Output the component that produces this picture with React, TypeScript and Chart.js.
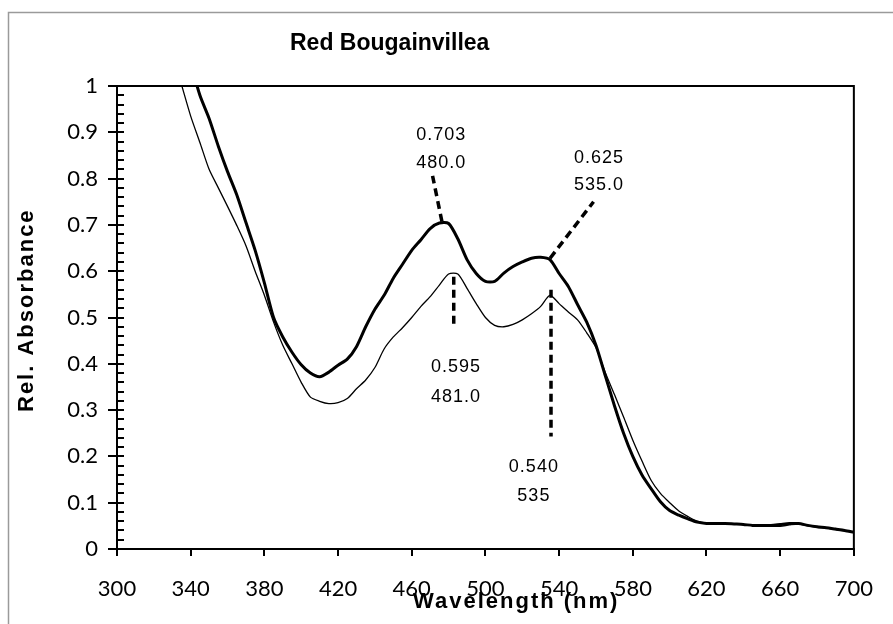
import { useEffect, useRef } from "react";
import Chart from "chart.js/auto";

const chartTitle = "Red Bougainvillea";
const xAxisTitle = "Wavelength (nm)";
const yAxisTitle = "Rel. Absorbance";

const wavelengths = [
  330, 335, 340, 345, 350, 355, 360, 365, 370, 375, 380, 385, 390, 395, 400, 405, 410, 415, 420, 425,
  430, 435, 440, 445, 450, 455, 460, 465, 470, 475, 480, 485, 490, 495, 500, 505, 510, 515, 520, 525,
  530, 535, 540, 545, 550, 555, 560, 565, 570, 575, 580, 585, 590, 595, 600, 605, 610, 615, 620, 625,
  630, 635, 640, 645, 650, 655, 660, 665, 670, 675, 680, 685, 690, 695, 700,
];

// thick curve
const seriesA = [
  1.25, 1.13, 1.05, 0.98, 0.93, 0.87, 0.815, 0.765, 0.705, 0.645, 0.575, 0.5, 0.458, 0.425, 0.398, 0.38, 0.372, 0.382, 0.397, 0.41,
  0.437, 0.48, 0.518, 0.548, 0.585, 0.615, 0.645, 0.668, 0.692, 0.704, 0.703, 0.67, 0.625, 0.595, 0.578, 0.578, 0.596, 0.61, 0.62, 0.628,
  0.63, 0.625, 0.595, 0.567, 0.528, 0.49, 0.44, 0.375, 0.31, 0.25, 0.2, 0.16, 0.13, 0.102, 0.083, 0.073, 0.065, 0.058, 0.055, 0.055,
  0.055, 0.054, 0.053, 0.051, 0.051, 0.051, 0.053, 0.055, 0.055, 0.051, 0.048, 0.046, 0.043, 0.04, 0.036,
];

// thin curve
const seriesB = [
  1.07, 1.003, 0.935, 0.878, 0.82, 0.78, 0.74, 0.699, 0.655, 0.6, 0.548, 0.49, 0.44, 0.4, 0.36, 0.328, 0.319, 0.314, 0.316, 0.325,
  0.346, 0.365, 0.392, 0.432, 0.458, 0.478, 0.5, 0.524, 0.545, 0.57, 0.594, 0.594, 0.563, 0.53, 0.5, 0.483, 0.48, 0.485, 0.495, 0.508,
  0.524, 0.548, 0.53, 0.512, 0.495, 0.467, 0.435, 0.382, 0.334, 0.285, 0.235, 0.19, 0.148, 0.12, 0.1, 0.082, 0.07, 0.06, 0.056, 0.055,
  0.055, 0.054, 0.053, 0.051, 0.05, 0.049, 0.049, 0.052, 0.054, 0.05, 0.047, 0.045, 0.042, 0.039, 0.036,
];

const xTickValues = [300, 340, 380, 420, 460, 500, 540, 580, 620, 660, 700];
const yTickValues = [0, 0.1, 0.2, 0.3, 0.4, 0.5, 0.6, 0.7, 0.8, 0.9, 1];

// peak labels: text in data units, leader line from/to in data units
const peakLabels = [
  { lines: ["0.703", "480.0"], textX: 476, textY: [0.894, 0.833], from: [476.4, 0.707], to: [471.3, 0.806] },
  { lines: ["0.625", "535.0"], textX: 561.6, textY: [0.844, 0.786], from: [535.1, 0.628], to: [558.7, 0.75] },
  { lines: ["0.595", "481.0"], textX: 484, textY: [0.393, 0.329], from: [482.8, 0.588], to: [482.8, 0.484] },
  { lines: ["0.540", "535"], textX: 526.3, textY: [0.178, 0.114], from: [535.6, 0.56], to: [535.6, 0.243] },
];

const overlay = {
  id: "overlay",
  afterDraw(chart: any) {
    const { ctx, chartArea, scales } = chart;
    const { left, right, top, bottom } = chartArea;
    const xs = scales.x;
    const ys = scales.y;
    ctx.save();

    // plot box top/right
    ctx.strokeStyle = "#000";
    ctx.lineWidth = 2;
    ctx.beginPath();
    ctx.moveTo(left - 1, top);
    ctx.lineTo(right, top);
    ctx.lineTo(right, bottom + 1);
    ctx.stroke();

    // minor ticks inside on y axis
    ctx.beginPath();
    for (let i = 1; i < 50; i++) {
      const py = Math.round(ys.getPixelForValue(i * 0.02));
      ctx.moveTo(left, py);
      ctx.lineTo(left + 7, py);
    }
    ctx.stroke();

    // peak labels
    ctx.setLineDash([8, 5]);
    ctx.lineWidth = 3.5;
    ctx.lineCap = "butt";
    for (const p of peakLabels) {
      ctx.beginPath();
      ctx.moveTo(xs.getPixelForValue(p.from[0]), ys.getPixelForValue(p.from[1]));
      ctx.lineTo(xs.getPixelForValue(p.to[0]), ys.getPixelForValue(p.to[1]));
      ctx.stroke();
    }
    ctx.setLineDash([]);
    ctx.fillStyle = "#000";
    ctx.font = "18px 'Liberation Sans', Arial, sans-serif";
    (ctx as any).letterSpacing = "1px";
    ctx.textAlign = "center";
    ctx.textBaseline = "middle";
    for (const p of peakLabels) {
      p.lines.forEach((t, i) => {
        ctx.fillText(t, xs.getPixelForValue(p.textX), ys.getPixelForValue(p.textY[i]));
      });
    }

    // chart title
    ctx.textAlign = "left";
    ctx.textBaseline = "alphabetic";
    ctx.font = "bold 23px 'Liberation Sans', Arial, sans-serif";
    (ctx as any).letterSpacing = "0px";
    ctx.fillText(chartTitle, 290, 50);

    // x axis title
    ctx.font = "bold 22px 'Liberation Sans', Arial, sans-serif";
    (ctx as any).letterSpacing = "2px";
    ctx.fillText(xAxisTitle, 413, 608);

    // y axis title
    ctx.save();
    ctx.translate(33, 412);
    ctx.rotate(-Math.PI / 2);
    ctx.fillText(yAxisTitle, 0, 0);
    ctx.restore();

    // outer gray frame
    (ctx as any).letterSpacing = "0px";
    ctx.strokeStyle = "#9a9a9a";
    ctx.lineWidth = 1.5;
    ctx.beginPath();
    ctx.moveTo(8.5, 630);
    ctx.lineTo(8.5, 12.5);
    ctx.lineTo(900, 12.5);
    ctx.stroke();

    ctx.restore();
  },
};

export default function App() {
  const canvasRef = useRef<HTMLCanvasElement | null>(null);

  useEffect(() => {
    const canvas = canvasRef.current;
    if (!canvas) return;
    const chart = new Chart(canvas, {
      type: "line",
      data: {
        datasets: [
          {
            data: wavelengths.map((w, i) => ({ x: w, y: seriesA[i] })),
            borderColor: "#000",
            borderWidth: 3,
            pointRadius: 0,
            tension: 0.25,
            fill: false,
          },
          {
            data: wavelengths.map((w, i) => ({ x: w, y: seriesB[i] })),
            borderColor: "#000",
            borderWidth: 1.3,
            pointRadius: 0,
            tension: 0.25,
            fill: false,
          },
        ],
      },
      options: {
        responsive: false,
        animation: false,
        events: [],
        layout: { padding: { left: 0, top: 86, right: 7, bottom: 0 } },
        plugins: {
          legend: { display: false },
          title: { display: false },
          tooltip: { enabled: false },
        },
        scales: {
          x: {
            type: "linear",
            min: 300,
            max: 700,
            afterBuildTicks: (scale: any) => {
              scale.ticks = xTickValues.map((v) => ({ value: v }));
            },
            afterFit: (scale: any) => {
              scale.height = 75;
            },
            grid: {
              drawOnChartArea: false,
              drawTicks: true,
              tickLength: 7,
              color: "#000",
              lineWidth: 2,
            },
            border: { display: true, color: "#000", width: 2 },
            ticks: {
              color: "#000",
              font: { family: "Lato", size: 22 },
              padding: 20,
              maxRotation: 0,
              autoSkip: false,
            },
          },
          y: {
            type: "linear",
            min: 0,
            max: 1,
            afterBuildTicks: (scale: any) => {
              scale.ticks = yTickValues.map((v) => ({ value: v }));
            },
            afterFit: (scale: any) => {
              scale.width = 117;
            },
            grid: {
              drawOnChartArea: false,
              drawTicks: true,
              tickLength: 9,
              color: "#000",
              lineWidth: 2,
            },
            border: { display: true, color: "#000", width: 2 },
            ticks: {
              color: "#000",
              font: { family: "Lato", size: 22 },
              padding: 10,
              autoSkip: false,
              callback: (v: any) => String(Math.round(Number(v) * 10) / 10),
            },
          },
        },
      },
      plugins: [overlay],
    });
    return () => chart.destroy();
  }, []);

  return (
    <div style={{ position: "fixed", left: 0, top: 0, width: 893, height: 624, background: "#fff" }}>
      <canvas ref={canvasRef} width={893} height={624} style={{ display: "block", width: 893, height: 624 }} />
    </div>
  );
}
